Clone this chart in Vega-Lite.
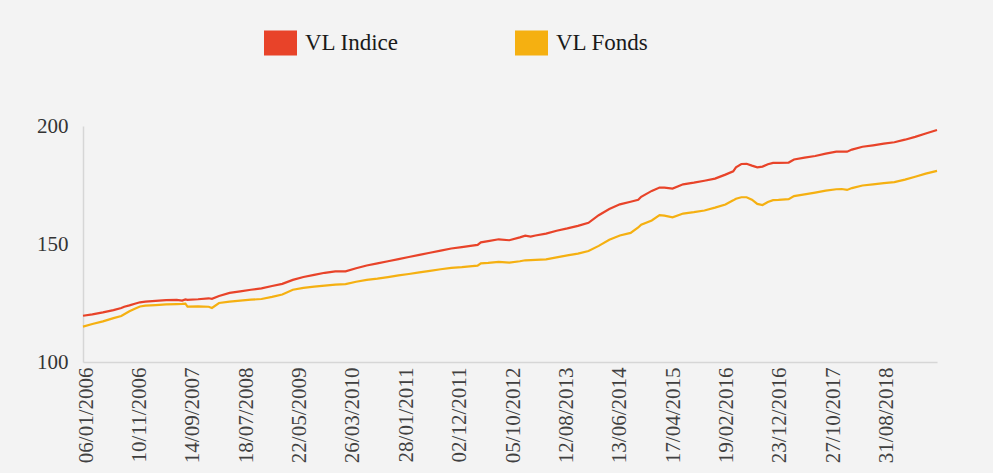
{
  "$schema": "https://vega.github.io/schema/vega-lite/v6.json",
  "autosize": {"type": "none"},
  "width": 854,
  "height": 236,
  "padding": {"left": 83, "top": 126, "right": 56, "bottom": 111},
  "background": "#f3f3f3",
  "config": {
    "view": {"stroke": null},
    "font": "Liberation Serif"
  },
  "data": {
    "values": [
      {"date": "2006-01-06", "VL Indice": 119.6, "VL Fonds": 115.0},
      {"date": "2006-03-01", "VL Indice": 120.2, "VL Fonds": 116.1},
      {"date": "2006-05-01", "VL Indice": 121.0, "VL Fonds": 117.2},
      {"date": "2006-07-01", "VL Indice": 122.0, "VL Fonds": 118.6},
      {"date": "2006-08-15", "VL Indice": 122.9, "VL Fonds": 119.5},
      {"date": "2006-09-01", "VL Indice": 123.4, "VL Fonds": 120.2},
      {"date": "2006-10-01", "VL Indice": 124.0, "VL Fonds": 121.5},
      {"date": "2006-11-01", "VL Indice": 124.7, "VL Fonds": 122.6},
      {"date": "2006-12-01", "VL Indice": 125.3, "VL Fonds": 123.5},
      {"date": "2007-01-01", "VL Indice": 125.6, "VL Fonds": 123.9},
      {"date": "2007-03-01", "VL Indice": 125.9, "VL Fonds": 124.1},
      {"date": "2007-05-01", "VL Indice": 126.2, "VL Fonds": 124.4},
      {"date": "2007-07-01", "VL Indice": 126.3, "VL Fonds": 124.5},
      {"date": "2007-08-01", "VL Indice": 126.0, "VL Fonds": 124.6},
      {"date": "2007-08-20", "VL Indice": 126.5, "VL Fonds": 124.7},
      {"date": "2007-09-01", "VL Indice": 126.3, "VL Fonds": 123.5},
      {"date": "2007-11-01", "VL Indice": 126.6, "VL Fonds": 123.6},
      {"date": "2008-01-01", "VL Indice": 127.0, "VL Fonds": 123.4},
      {"date": "2008-01-20", "VL Indice": 126.8, "VL Fonds": 122.9},
      {"date": "2008-03-01", "VL Indice": 128.0, "VL Fonds": 125.0},
      {"date": "2008-05-01", "VL Indice": 129.3, "VL Fonds": 125.6},
      {"date": "2008-07-01", "VL Indice": 129.9, "VL Fonds": 126.0},
      {"date": "2008-09-01", "VL Indice": 130.6, "VL Fonds": 126.4},
      {"date": "2008-11-01", "VL Indice": 131.2, "VL Fonds": 126.7},
      {"date": "2009-01-01", "VL Indice": 132.2, "VL Fonds": 127.6},
      {"date": "2009-03-01", "VL Indice": 133.1, "VL Fonds": 128.6},
      {"date": "2009-05-01", "VL Indice": 134.8, "VL Fonds": 130.6},
      {"date": "2009-07-01", "VL Indice": 136.0, "VL Fonds": 131.4},
      {"date": "2009-09-01", "VL Indice": 136.9, "VL Fonds": 131.9},
      {"date": "2009-11-01", "VL Indice": 137.8, "VL Fonds": 132.4},
      {"date": "2010-01-01", "VL Indice": 138.4, "VL Fonds": 132.8},
      {"date": "2010-03-01", "VL Indice": 138.4, "VL Fonds": 133.0},
      {"date": "2010-05-01", "VL Indice": 139.7, "VL Fonds": 134.0},
      {"date": "2010-07-01", "VL Indice": 140.9, "VL Fonds": 134.8},
      {"date": "2010-09-01", "VL Indice": 141.8, "VL Fonds": 135.3},
      {"date": "2010-11-01", "VL Indice": 142.7, "VL Fonds": 136.0},
      {"date": "2011-01-01", "VL Indice": 143.6, "VL Fonds": 136.7},
      {"date": "2011-03-01", "VL Indice": 144.5, "VL Fonds": 137.3},
      {"date": "2011-05-01", "VL Indice": 145.4, "VL Fonds": 138.0},
      {"date": "2011-07-01", "VL Indice": 146.3, "VL Fonds": 138.6},
      {"date": "2011-09-01", "VL Indice": 147.2, "VL Fonds": 139.3},
      {"date": "2011-11-01", "VL Indice": 148.1, "VL Fonds": 139.9},
      {"date": "2012-01-01", "VL Indice": 148.7, "VL Fonds": 140.2},
      {"date": "2012-03-01", "VL Indice": 149.3, "VL Fonds": 140.6},
      {"date": "2012-04-01", "VL Indice": 149.6, "VL Fonds": 140.8},
      {"date": "2012-04-20", "VL Indice": 150.7, "VL Fonds": 141.8},
      {"date": "2012-06-01", "VL Indice": 151.2, "VL Fonds": 142.0},
      {"date": "2012-08-01", "VL Indice": 152.0, "VL Fonds": 142.4},
      {"date": "2012-10-01", "VL Indice": 151.6, "VL Fonds": 142.1},
      {"date": "2012-12-01", "VL Indice": 152.8, "VL Fonds": 142.7},
      {"date": "2013-01-01", "VL Indice": 153.5, "VL Fonds": 143.1},
      {"date": "2013-02-01", "VL Indice": 153.1, "VL Fonds": 143.2},
      {"date": "2013-03-01", "VL Indice": 153.6, "VL Fonds": 143.3},
      {"date": "2013-05-01", "VL Indice": 154.4, "VL Fonds": 143.5},
      {"date": "2013-07-01", "VL Indice": 155.6, "VL Fonds": 144.3},
      {"date": "2013-09-01", "VL Indice": 156.6, "VL Fonds": 145.2},
      {"date": "2013-11-01", "VL Indice": 157.7, "VL Fonds": 145.9},
      {"date": "2014-01-01", "VL Indice": 159.0, "VL Fonds": 147.0},
      {"date": "2014-03-01", "VL Indice": 162.2, "VL Fonds": 149.2},
      {"date": "2014-05-01", "VL Indice": 164.8, "VL Fonds": 151.8},
      {"date": "2014-07-01", "VL Indice": 166.8, "VL Fonds": 153.6},
      {"date": "2014-09-01", "VL Indice": 167.9, "VL Fonds": 154.7},
      {"date": "2014-10-15", "VL Indice": 168.7, "VL Fonds": 157.0},
      {"date": "2014-11-01", "VL Indice": 170.0, "VL Fonds": 158.2},
      {"date": "2015-01-01", "VL Indice": 172.5, "VL Fonds": 160.0},
      {"date": "2015-02-15", "VL Indice": 173.9, "VL Fonds": 162.2},
      {"date": "2015-03-15", "VL Indice": 173.9, "VL Fonds": 162.0},
      {"date": "2015-05-01", "VL Indice": 173.5, "VL Fonds": 161.3},
      {"date": "2015-07-01", "VL Indice": 175.3, "VL Fonds": 162.9},
      {"date": "2015-09-01", "VL Indice": 176.0, "VL Fonds": 163.5},
      {"date": "2015-11-01", "VL Indice": 176.8, "VL Fonds": 164.2},
      {"date": "2016-01-01", "VL Indice": 177.7, "VL Fonds": 165.4},
      {"date": "2016-03-01", "VL Indice": 179.4, "VL Fonds": 166.7},
      {"date": "2016-04-15", "VL Indice": 180.8, "VL Fonds": 168.5},
      {"date": "2016-05-01", "VL Indice": 182.5, "VL Fonds": 169.2},
      {"date": "2016-06-01", "VL Indice": 183.9, "VL Fonds": 169.8},
      {"date": "2016-07-01", "VL Indice": 184.0, "VL Fonds": 169.8},
      {"date": "2016-08-01", "VL Indice": 183.2, "VL Fonds": 168.8},
      {"date": "2016-09-01", "VL Indice": 182.5, "VL Fonds": 167.0},
      {"date": "2016-10-01", "VL Indice": 182.8, "VL Fonds": 166.5},
      {"date": "2016-11-01", "VL Indice": 183.8, "VL Fonds": 167.8},
      {"date": "2016-12-01", "VL Indice": 184.4, "VL Fonds": 168.6},
      {"date": "2017-01-01", "VL Indice": 184.4, "VL Fonds": 168.7},
      {"date": "2017-03-01", "VL Indice": 184.5, "VL Fonds": 169.0},
      {"date": "2017-04-01", "VL Indice": 185.8, "VL Fonds": 170.3},
      {"date": "2017-06-01", "VL Indice": 186.6, "VL Fonds": 171.0},
      {"date": "2017-08-01", "VL Indice": 187.3, "VL Fonds": 171.8},
      {"date": "2017-10-01", "VL Indice": 188.3, "VL Fonds": 172.6},
      {"date": "2017-12-01", "VL Indice": 189.1, "VL Fonds": 173.2},
      {"date": "2018-01-01", "VL Indice": 189.1, "VL Fonds": 173.3},
      {"date": "2018-02-01", "VL Indice": 189.1, "VL Fonds": 172.9},
      {"date": "2018-03-01", "VL Indice": 190.0, "VL Fonds": 173.7},
      {"date": "2018-05-01", "VL Indice": 191.2, "VL Fonds": 174.8},
      {"date": "2018-07-01", "VL Indice": 191.8, "VL Fonds": 175.3},
      {"date": "2018-09-01", "VL Indice": 192.5, "VL Fonds": 175.8},
      {"date": "2018-11-01", "VL Indice": 193.1, "VL Fonds": 176.2},
      {"date": "2019-01-01", "VL Indice": 194.2, "VL Fonds": 177.3},
      {"date": "2019-03-01", "VL Indice": 195.4, "VL Fonds": 178.5},
      {"date": "2019-05-01", "VL Indice": 196.8, "VL Fonds": 179.8},
      {"date": "2019-07-05", "VL Indice": 198.3, "VL Fonds": 181.0}
    ]
  },
  "transform": [
    {"fold": ["VL Indice", "VL Fonds"], "as": ["serie", "valeur"]}
  ],
  "mark": {"type": "line", "strokeWidth": 2.2, "clip": false},
  "encoding": {
    "x": {
      "field": "date",
      "type": "temporal",
      "scale": {
        "type": "utc",
        "domain": [
          {"year": 2006, "month": 1, "date": 6, "utc": true},
          {"year": 2019, "month": 7, "date": 5, "utc": true}
        ]
      },
      "axis": {
        "title": null,
        "values": [
          {"year": 2006, "month": 1, "date": 6, "utc": true},
          {"year": 2006, "month": 11, "date": 10, "utc": true},
          {"year": 2007, "month": 9, "date": 14, "utc": true},
          {"year": 2008, "month": 7, "date": 18, "utc": true},
          {"year": 2009, "month": 5, "date": 22, "utc": true},
          {"year": 2010, "month": 3, "date": 26, "utc": true},
          {"year": 2011, "month": 1, "date": 28, "utc": true},
          {"year": 2011, "month": 12, "date": 2, "utc": true},
          {"year": 2012, "month": 10, "date": 5, "utc": true},
          {"year": 2013, "month": 8, "date": 12, "utc": true},
          {"year": 2014, "month": 6, "date": 13, "utc": true},
          {"year": 2015, "month": 4, "date": 17, "utc": true},
          {"year": 2016, "month": 2, "date": 19, "utc": true},
          {"year": 2016, "month": 12, "date": 23, "utc": true},
          {"year": 2017, "month": 10, "date": 27, "utc": true},
          {"year": 2018, "month": 8, "date": 31, "utc": true}
        ],
        "labelExpr": "utcFormat(datum.value, '%d/%m/%Y')",
        "labelAngle": -90,
        "labelOffset": 3,
        "labelFontSize": 21,
        "labelFont": "Liberation Serif",
        "labelColor": "#404040",
        "labelPadding": 5,
        "labelOverlap": false,
        "labelFlush": false,
        "ticks": false,
        "grid": false,
        "domainColor": "#d6d6d6",
        "domainWidth": 1.5
      }
    },
    "y": {
      "field": "valeur",
      "type": "quantitative",
      "scale": {"domain": [100, 200], "nice": false, "zero": false},
      "axis": {
        "title": null,
        "values": [100, 150, 200],
        "labelFontSize": 21,
        "labelFont": "Liberation Serif",
        "labelColor": "#333333",
        "labelPadding": 15,
        "ticks": false,
        "grid": false,
        "domainColor": "#d6d6d6",
        "domainWidth": 1.5
      }
    },
    "color": {
      "field": "serie",
      "type": "nominal",
      "sort": ["VL Indice", "VL Fonds"],
      "scale": {"domain": ["VL Indice", "VL Fonds"], "range": ["#e84329", "#f5b011"]},
      "legend": {
        "title": null,
        "orient": "none",
        "direction": "horizontal",
        "legendX": 181,
        "legendY": -100,
        "padding": 0,
        "columnPadding": 116,
        "symbolType": "M-1,-0.76H1V0.76H-1Z",
        "symbolSize": 1089,
        "symbolStrokeWidth": 0,
        "labelOffset": 8,
        "labelFontSize": 23,
        "labelFont": "Liberation Serif",
        "labelColor": "#1a1a1a",
        "labelLimit": 300,
        "encode": {
          "symbols": {
            "update": {
              "fill": {"scale": "color", "field": "value"},
              "stroke": {"value": "transparent"},
              "opacity": {"value": 1}
            }
          }
        }
      }
    }
  }
}
